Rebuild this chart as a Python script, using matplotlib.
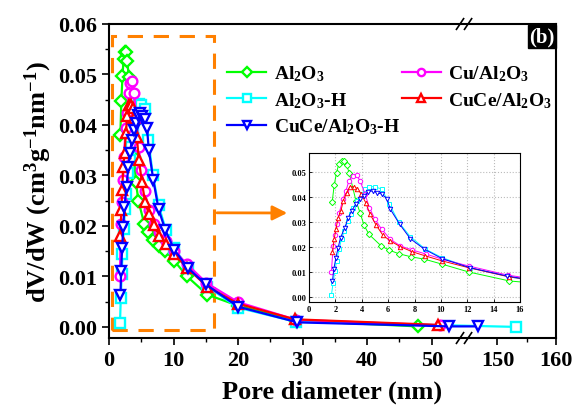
import numpy as np
import matplotlib
matplotlib.use("Agg")
import matplotlib.pyplot as plt
from matplotlib.ticker import FixedLocator, MultipleLocator, FormatStrFormatter
from matplotlib.patches import Rectangle

plt.rcParams['font.family'] = ['Liberation Serif', 'DejaVu Serif']
plt.rcParams['font.weight'] = 'bold'
plt.rcParams['mathtext.fontset'] = 'custom'
plt.rcParams['mathtext.rm'] = 'Liberation Serif:bold'
plt.rcParams['mathtext.bf'] = 'Liberation Serif:bold'
plt.rcParams['mathtext.default'] = 'bf'

# -----------------------------
# DATA  (pore diameter nm, dV/dW)
# -----------------------------
x_al = [1.76, 1.91, 2.09, 2.26, 2.47, 2.67, 2.85, 3.05, 3.56, 3.87, 4.17, 4.55, 5.47,
        6.08, 6.8, 7.7, 8.75, 10.1, 12.1, 15.2, 20.0, 29.0, 47.9]
y_al = [0.038, 0.0447, 0.0497, 0.0531, 0.0544, 0.0544, 0.0527, 0.0495, 0.0384, 0.0337,
        0.0287, 0.025, 0.0204, 0.0187, 0.0173, 0.0161, 0.0151, 0.0131, 0.0100, 0.0064,
        0.0042, 0.0012, 0.0001]

x_cu = [1.7, 1.83, 1.96, 2.14, 2.29, 2.6, 2.8, 3.03, 3.31, 3.61, 3.87, 4.25, 4.58, 5.0,
        5.52, 6.16, 6.92, 7.81, 8.9, 10.1, 12.1, 15.1, 20.0, 29.0, 51.3]
y_cu = [0.0100, 0.0204, 0.0247, 0.029, 0.0337, 0.0393, 0.0424, 0.0464, 0.0484, 0.0487,
        0.0464, 0.0411, 0.0357, 0.031, 0.027, 0.0231, 0.0204, 0.0188, 0.0171, 0.0151,
        0.0124, 0.0087, 0.0049, 0.0014, 0.0003]

x_alh = [1.7, 1.83, 1.96, 2.09, 2.29, 2.47, 2.67, 2.93, 3.18, 3.36, 3.66, 3.99, 4.25,
         4.58, 5.0, 5.52, 6.1, 6.79, 7.68, 8.83, 10.1, 12.2, 15.2, 20.0, 29.0, 153.2]
y_alh = [0.0008, 0.0057, 0.0104, 0.0144, 0.0193, 0.0233, 0.0264, 0.0304, 0.0331, 0.0357,
         0.0384, 0.0411, 0.0431, 0.0441, 0.044, 0.0431, 0.0371, 0.030, 0.0241, 0.0191,
         0.0157, 0.0117, 0.0080, 0.0038, 0.0010, 0.0]

x_cuce = [1.78, 1.91, 2.04, 2.21, 2.42, 2.6, 2.85, 3.1, 3.41, 3.66, 3.94, 4.3, 4.63, 5.09,
          5.6, 6.16, 6.92, 7.81, 8.83, 10.1, 12.1, 15.2, 20.0, 28.8, 51.0]
y_cuce = [0.018, 0.0231, 0.0271, 0.0317, 0.0344, 0.0384, 0.0417, 0.044, 0.044, 0.0433,
          0.0413, 0.0377, 0.0331, 0.0287, 0.0247, 0.0224, 0.0201, 0.0181, 0.0164, 0.0144,
          0.0117, 0.0080, 0.0046, 0.0015, 0.0004]

x_cuceh = [1.78, 1.88, 2.04, 2.21, 2.39, 2.72, 2.98, 3.23, 3.56, 3.87, 4.17, 4.5, 4.83,
           5.14, 5.52, 5.9, 6.16, 6.87, 7.68, 8.75, 10.1, 12.2, 15.0, 20.0, 29.2, 52.6, 146.6]
y_cuceh = [0.0064, 0.0111, 0.0157, 0.0197, 0.0237, 0.0277, 0.0317, 0.0344, 0.0371, 0.0391,
           0.0404, 0.042, 0.0424, 0.0417, 0.0411, 0.0393, 0.0351, 0.0291, 0.0233, 0.0191,
           0.0153, 0.0117, 0.0084, 0.0040, 0.0009, 0.0001, 0.0001]

series = [
    (x_al, y_al, '#00FF00', 'D', 'Al$_2$O$_3$'),
    (x_alh, y_alh, '#00FFFF', 's', 'Al$_2$O$_3$-H'),
    (x_cu, y_cu, '#FF00FF', 'o', 'Cu/Al$_2$O$_3$'),
    (x_cuce, y_cuce, '#FF0000', '^', 'CuCe/Al$_2$O$_3$'),
    (x_cuceh, y_cuceh, '#0000FF', 'v', 'CuCe/Al$_2$O$_3$-H'),
]

# -----------------------------
# BROKEN X AXIS (0-55 | 144.3-160)
# -----------------------------
B1, B2, GAP, K = 55.0, 144.3, 0.01, 0.907

def fwd(x):
    x = np.asarray(x, dtype=float)
    return np.where(x <= B1, x,
                    np.where(x >= B2, B1 + GAP + (x - B2) * K,
                             B1 + (x - B1) * GAP / (B2 - B1)))

def inv(u):
    u = np.asarray(u, dtype=float)
    return np.where(u <= B1, u,
                    np.where(u >= B1 + GAP, B2 + (u - B1 - GAP) / K,
                             B1 + (u - B1) * (B2 - B1) / GAP))

ORANGE = '#FF8000'

fig = plt.figure(figsize=(5.77, 4.10), dpi=100)
ax = fig.add_axes([109 / 577, 1 - 339 / 410, 447 / 577, 314 / 410])
ax.set_xscale('function', functions=(fwd, inv))

handles = {}
for xs, ys, c, m, lab in series:
    ms = 7 if m != 'D' else 6.5
    h, = ax.plot(xs, ys, color=c, lw=1.6, marker=m, ms=ms, mfc='white', mec=c,
                 mew=1.7, label=lab)
    handles[lab] = h

ax.set_xlim(0, 160)
ax.set_ylim(-0.0022, 0.06)
ax.xaxis.set_major_locator(FixedLocator([0, 10, 20, 30, 40, 50, 150, 160]))
ax.xaxis.set_minor_locator(FixedLocator([5, 15, 25, 35, 45, 155]))
ax.yaxis.set_major_locator(MultipleLocator(0.01))
ax.yaxis.set_minor_locator(MultipleLocator(0.005))
ax.yaxis.set_major_formatter(FormatStrFormatter('%.2f'))
ax.xaxis.set_major_formatter(FormatStrFormatter('%d'))
ax.tick_params(which='major', direction='out', length=5, width=1.2, labelsize=16)
ax.tick_params(which='minor', direction='out', length=3, width=1.0)
for s in ax.spines.values():
    s.set_linewidth(1.5)

ax.set_xlabel('Pore diameter (nm)', fontsize=19, fontweight='bold', labelpad=7)
ax.set_ylabel('dV/dW (cm$^{3}$g$^{-1}$nm$^{-1}$)', fontsize=19, fontweight='bold', labelpad=3)

# break marks on the x axis
xb = (fwd(100.0) - fwd(0.0)) / (fwd(160.0) - fwd(0.0))
for yb in (0.0, 1.0):
    for dx in (-0.009, 0.009):
        ax.plot([xb + dx - 0.008, xb + dx + 0.008], [yb - 0.017, yb + 0.017],
                transform=ax.transAxes, color='black', lw=1.2, clip_on=False)

# zoom region box and arrow to the inset
ax.add_patch(Rectangle((0.4, -0.0007), 15.9, 0.0584, fill=False, edgecolor=ORANGE,
                       lw=2.2, linestyle=(0, (5, 3.5)), zorder=1))
ax.annotate('', xy=(290 / 577, 1 - 214 / 410), xycoords='figure fraction',
            xytext=(16.3, 0.0226), textcoords='data',
            arrowprops=dict(arrowstyle='-|>', color=ORANGE, lw=2, mutation_scale=22))

ax.text(0.997, 0.992, '(b)', transform=ax.transAxes, ha='right', va='top',
        color='white', fontsize=15, fontweight='bold',
        bbox=dict(facecolor='black', edgecolor='black', pad=1.2))

order = ['Al$_2$O$_3$', 'Al$_2$O$_3$-H', 'CuCe/Al$_2$O$_3$-H',
         'Cu/Al$_2$O$_3$', 'CuCe/Al$_2$O$_3$']
ax.legend([handles[k] for k in order], order, ncol=2, loc='upper left',
          bbox_to_anchor=(0.225, 0.93), frameon=False, fontsize=14,
          handlelength=2.0, handletextpad=0.4, columnspacing=0.1,
          labelspacing=0.35, markerscale=0.75)

# -----------------------------
# INSET
# -----------------------------
axi = fig.add_axes([309 / 577, 1 - 303 / 410, 211 / 577, 149 / 410])
for xs, ys, c, m, lab in series:
    axi.plot(xs, ys, color=c, lw=0.7, marker=m, ms=3.2, mfc='white', mec=c, mew=0.7)
axi.set_xlim(0, 16)
axi.set_ylim(-0.002, 0.0575)
axi.xaxis.set_major_locator(MultipleLocator(2))
axi.yaxis.set_major_locator(MultipleLocator(0.01))
axi.yaxis.set_major_formatter(FormatStrFormatter('%.2f'))
axi.grid(True, linestyle=':', color='#BBBBBB', lw=0.8)
axi.tick_params(direction='in', length=2, width=0.6, labelsize=6, pad=2)
for s in axi.spines.values():
    s.set_linewidth(0.8)

fig.savefig('out.png', dpi=100)
